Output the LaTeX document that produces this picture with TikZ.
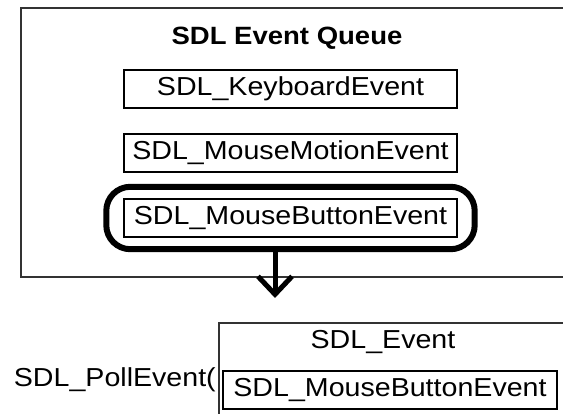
\documentclass[tikz,border=0pt]{standalone}
\usepackage{fontspec}
\setmainfont{Liberation Sans}
\newfontfamily\paintfont[FakeStretch=1.1]{Liberation Sans}
\usetikzlibrary{arrows.meta,fit}

\begin{document}
\begin{tikzpicture}[x=1pt,y=-1pt]
	\tikzstyle{every node}+=[inner sep=0pt]
	\tikzstyle{evbox}=[draw=black, line width=1.4pt, minimum width=333pt, minimum height=38pt, font=\paintfont\fontsize{26}{28}\selectfont]
	\tikzstyle{evtext}=[font=\paintfont\fontsize{26}{28}\selectfont]
	\tikzstyle{ring}=[draw=black, line width=6pt, rounded corners=24pt, inner xsep=17pt, inner ysep=11.5pt]
	\clip (0,0) rectangle (563,414);
	\fill [white] (0,0) rectangle (563,414);
	\draw [black!80, line width=1.6pt] (21,8) rectangle (620,277);
	\node [font=\paintfont\bfseries\fontsize{25}{28}\selectfont] (title) at (287,38) {SDL Event Queue};
	\node [evbox] (kbd) at (290.5,89) {SDL\_KeyboardEvent};
	\node [evbox] (motion) at (290.5,153) {SDL\_MouseMotionEvent};
	\node [evbox] (button) at (290.5,218) {SDL\_MouseButtonEvent};
	\node [ring, fit=(button)] (ring) {};
	\coordinate (tip) at (275,298);
	\draw [black, line width=5pt, -{Straight Barb[length=18pt,width=34pt]}] (ring.south -| tip) -- (tip);
	\draw [black!80, line width=1.4pt] (219,323) rectangle (620,440);
	\node [evtext] (event) at (383,342) {SDL\_Event};
	\node [evbox, minimum width=334pt] (polled) at (390,390) {SDL\_MouseButtonEvent};
	\node [evtext, anchor=east] (poll) at (216,380) {SDL\_PollEvent(};
\end{tikzpicture}
\end{document}
